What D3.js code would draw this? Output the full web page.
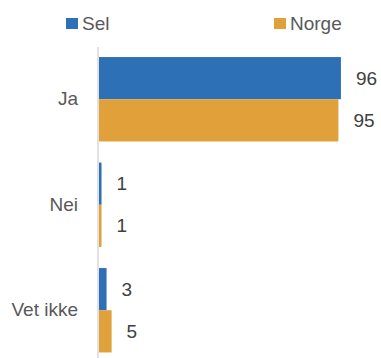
<!DOCTYPE html>
<html><head><meta charset="utf-8">
<script src="https://cdn.jsdelivr.net/npm/d3@7"></script>
<style>html,body{margin:0;padding:0;background:#fff;}svg{display:block;}</style>
</head><body>
<script>
const categories = ["Ja", "Nei", "Vet ikke"];
const seriesNames = ["Sel", "Norge"];
const selValues = [96, 1, 3];
const norgeValues = [95, 1, 5];
const colors = ["#2E70B6", "#E0A03A"];

const W = 381, H = 358;
const svg = d3.select("body").append("svg").attr("width", W).attr("height", H);
const font = "'Liberation Sans', Arial, sans-serif";
const textColor = "#595959";

const y = d3.scaleBand().domain(categories).range([46.5, 363]).paddingInner(0.2).paddingOuter(0.1);
const y1 = d3.scaleBand().domain(seriesNames).range([0, y.bandwidth()]);
const x = d3.scaleLinear().domain([0, 100]).range([99, 351]);

const data = categories.map((c, i) => ({cat: c, vals: [
  {s: "Sel", v: selValues[i]}, {s: "Norge", v: norgeValues[i]}]}));

const g = svg.selectAll("g.cat").data(data).join("g")
  .attr("transform", d => `translate(0,${y(d.cat)})`);

g.selectAll("rect").data(d => d.vals).join("rect")
  .attr("x", x(0))
  .attr("y", d => y1(d.s))
  .attr("width", d => x(d.v) - x(0))
  .attr("height", y1.bandwidth())
  .attr("fill", (d, i) => colors[seriesNames.indexOf(d.s)]);

g.selectAll("text.val").data(d => d.vals).join("text")
  .attr("class", "val")
  .attr("x", d => x(d.v) + 15)
  .attr("y", d => y1(d.s) + y1.bandwidth() / 2)
  .attr("dy", "0.35em")
  .attr("font-family", font).attr("font-size", 19).attr("fill", "#404040")
  .text(d => d.v);

// axis
const yAxis = d3.axisLeft(y).tickSize(0).tickPadding(20);
const ax = svg.append("g").attr("transform", `translate(98,0)`).call(yAxis);
ax.select(".domain").attr("stroke", "#D9D9D9").attr("stroke-width", 1.5)
  .attr("d", `M0,47V${H}`);
ax.selectAll("text").attr("font-family", font).attr("font-size", 19).attr("fill", textColor);

// legend
const legend = svg.append("g");
const legX = [66, 274];
seriesNames.forEach((s, i) => {
  legend.append("rect").attr("x", legX[i]).attr("y", 18).attr("width", 12).attr("height", 11).attr("fill", colors[i]);
  legend.append("text").attr("x", legX[i] + 16).attr("y", 23.5).attr("dy", "0.35em")
    .attr("font-family", font).attr("font-size", 19).attr("fill", textColor).text(s);
});
</script>
</body></html>
